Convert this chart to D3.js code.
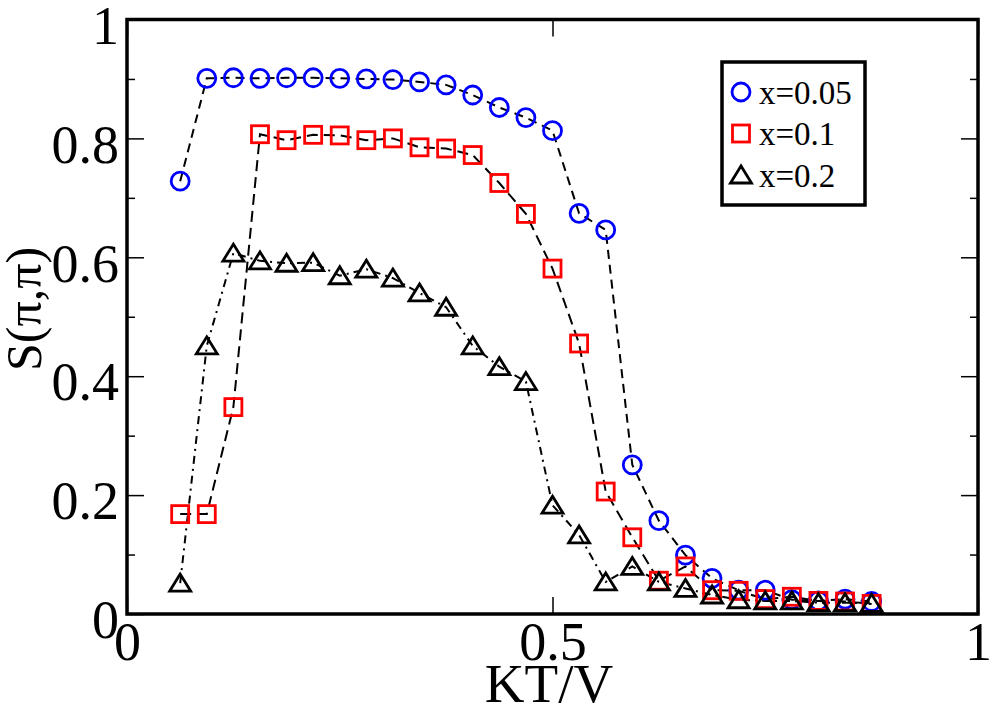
<!DOCTYPE html>
<html>
<head>
<meta charset="utf-8">
<script src="https://cdn.jsdelivr.net/npm/d3@7"></script>
<style>
  body { margin: 0; background: #fff; }
  svg { display: block; }
  text { font-family: "Liberation Serif", "Times New Roman", serif; fill: #000; }
</style>
</head>
<body>
<svg width="990" height="706"></svg>
<script>
// KT/V values (same for all three series)
var ktv = [0.0625, 0.09375, 0.125, 0.15625, 0.1875, 0.21875, 0.25, 0.28125, 0.3125,
  0.34375, 0.375, 0.40625, 0.4375, 0.46875, 0.5, 0.53125, 0.5625, 0.59375, 0.625,
  0.65625, 0.6875, 0.71875, 0.75, 0.78125, 0.8125, 0.84375, 0.875]

var s005 = [0.728, 0.901, 0.902, 0.901, 0.902, 0.902, 0.901, 0.900, 0.899,
  0.895, 0.890, 0.873, 0.852, 0.835, 0.813, 0.674, 0.646, 0.251, 0.157,
  0.099, 0.060, 0.040, 0.040, 0.024, 0.022, 0.025, 0.021]

var s01 = [0.168, 0.168, 0.348, 0.807, 0.797, 0.806, 0.805, 0.797, 0.800,
  0.785, 0.783, 0.772, 0.725, 0.673, 0.581, 0.455, 0.206, 0.129, 0.056,
  0.080, 0.040, 0.039, 0.025, 0.029, 0.022, 0.021, 0.017]

var s02 = [0.052, 0.451, 0.607, 0.594, 0.590, 0.591, 0.569, 0.580, 0.565,
  0.540, 0.516, 0.451, 0.416, 0.391, 0.183, 0.133, 0.054, 0.080, 0.054,
  0.043, 0.032, 0.024, 0.022, 0.022, 0.019, 0.019, 0.018]

var seriesNames = ["x=0.05", "x=0.1", "x=0.2"]
var xTicks = [0, 0.5, 1]
var xTickLabels = ["0", "0.5", "1"]
var yTicks = [0, 0.2, 0.4, 0.6, 0.8, 1]
var yTickLabels = ["0", "0.2", "0.4", "0.6", "0.8", "1"]
var yMinor = [0.1, 0.3, 0.5, 0.7, 0.9]

// plot frame in pixels (window.top is reserved, so no plain "top")
var frameL = 127, frameR = 978, frameT = 19.5, frameB = 614

var x = d3.scaleLinear().domain([0, 1]).range([frameL, frameR])
var y = d3.scaleLinear().domain([0, 1]).range([frameB, frameT])

var svg = d3.select("svg")

var series = [
  {name: seriesNames[0], values: s005, color: "#0000ff", shape: "circle", dash: "9,6"},
  {name: seriesNames[1], values: s01, color: "#ff0000", shape: "square", dash: "11,6"},
  {name: seriesNames[2], values: s02, color: "#000000", shape: "triangle", dash: "8,5,2,5"}
]

function drawMarker(sel, shape, color) {
  if (shape == "circle") {
    sel.append("circle").attr("r", 9)
      .attr("fill", "none").attr("stroke", color).attr("stroke-width", 2.8)
  } else if (shape == "square") {
    sel.append("rect").attr("x", -8.5).attr("y", -8.5).attr("width", 17).attr("height", 17)
      .attr("fill", "none").attr("stroke", color).attr("stroke-width", 2.8)
  } else {
    sel.append("path").attr("d", "M0,-9L-10.5,8L10.5,8Z")
      .attr("fill", "none").attr("stroke", color).attr("stroke-width", 2.8)
      .attr("stroke-linejoin", "miter")
  }
}

var line = d3.line()
  .x(function(d) { return x(d[0]) })
  .y(function(d) { return y(d[1]) })

series.forEach(function(s) {
  var pts = ktv.map(function(k, i) { return [k, s.values[i]] })
  svg.append("path").datum(pts)
    .attr("d", line)
    .attr("fill", "none")
    .attr("stroke", "#000")
    .attr("stroke-width", 2)
    .attr("stroke-dasharray", s.dash)
})

series.forEach(function(s) {
  var pts = ktv.map(function(k, i) { return [k, s.values[i]] })
  svg.append("g").selectAll("g").data(pts).enter().append("g")
    .attr("transform", function(d) { return "translate(" + x(d[0]) + "," + y(d[1]) + ")" })
    .each(function() { drawMarker(d3.select(this), s.shape, s.color) })
})

// axes, ticks drawn inward on all four sides
function styleAxis(g, fontSize) {
  g.select(".domain").remove()
  g.selectAll(".tick line").attr("stroke", "#000").attr("stroke-width", 1.5)
  g.selectAll(".tick text").style("font-family", '"Liberation Serif", serif')
    .style("font-size", fontSize + "px").attr("fill", "#000")
}

var yAxis = svg.append("g").attr("transform", "translate(" + frameL + ",0)")
  .call(d3.axisLeft(y).tickValues(yTicks).tickSize(-17).tickPadding(8)
    .tickFormat(function(d, i) { return yTickLabels[i] }))
styleAxis(yAxis, 54)
yAxis.selectAll(".tick text").attr("dy", "0.44em")

svg.append("g").attr("transform", "translate(" + frameL + ",0)")
  .call(d3.axisLeft(y).tickValues(yMinor).tickSize(-8).tickFormat(""))
  .call(styleAxis, 54)
svg.append("g").attr("transform", "translate(" + frameR + ",0)")
  .call(d3.axisRight(y).tickValues(yTicks).tickSize(-17).tickFormat(""))
  .call(styleAxis, 54)
svg.append("g").attr("transform", "translate(" + frameR + ",0)")
  .call(d3.axisRight(y).tickValues(yMinor).tickSize(-8).tickFormat(""))
  .call(styleAxis, 54)

var xAxis = svg.append("g").attr("transform", "translate(0," + frameB + ")")
  .call(d3.axisBottom(x).tickValues(xTicks).tickSize(-17).tickPadding(8)
    .tickFormat(function(d, i) { return xTickLabels[i] }))
styleAxis(xAxis, 54)
svg.append("g").attr("transform", "translate(0," + frameT + ")")
  .call(d3.axisTop(x).tickValues(xTicks).tickSize(-17).tickFormat(""))
  .call(styleAxis, 54)

// frame
svg.append("rect")
  .attr("x", frameL).attr("y", frameT)
  .attr("width", frameR - frameL).attr("height", frameB - frameT)
  .attr("fill", "none").attr("stroke", "#000").attr("stroke-width", 3.5)

// axis titles
svg.append("text")
  .attr("x", 549).attr("y", 702)
  .attr("text-anchor", "middle")
  .style("font-size", "55px")
  .text("KT/V")

svg.append("text")
  .attr("transform", "translate(41,309) rotate(-90)")
  .attr("text-anchor", "middle")
  .style("font-size", "50px")
  .text("S(π,π)")

// legend
var legend = svg.append("g")
legend.append("rect")
  .attr("x", 722).attr("y", 62).attr("width", 143).attr("height", 143)
  .attr("fill", "#fff").attr("stroke", "#000").attr("stroke-width", 3.5)

var legendRows = legend.selectAll("g.row").data(series).enter().append("g")
  .attr("class", "row")
  .attr("transform", function(d, i) { return "translate(0," + (92 + i * 41.5) + ")" })

legendRows.append("g").attr("transform", "translate(741,0)")
  .each(function(d) { drawMarker(d3.select(this), d.shape, d.color) })

legendRows.append("text")
  .attr("x", 759).attr("y", 11.5)
  .style("font-size", "33px")
  .text(function(d) { return d.name })
</script>
</body>
</html>
